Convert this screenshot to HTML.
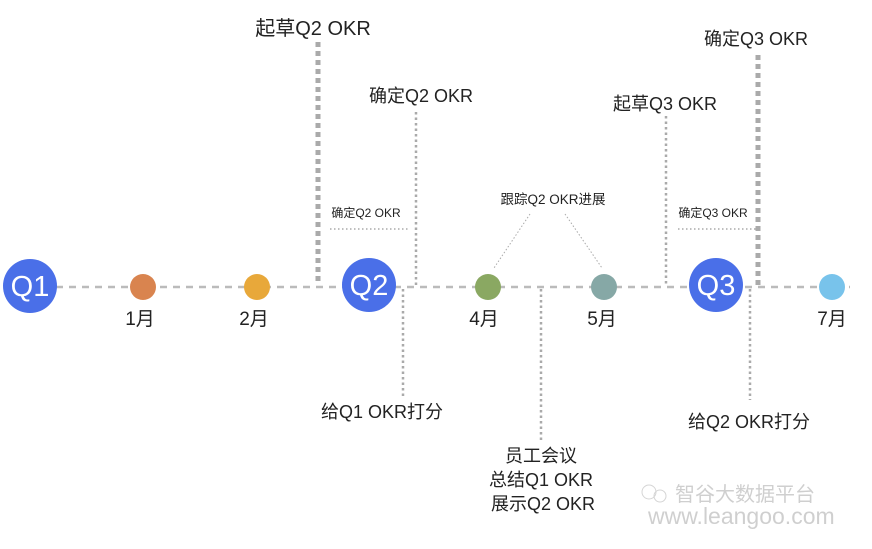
<!DOCTYPE html><html><head><meta charset="utf-8"><style>body{margin:0;background:#fff}svg{display:block}text{font-family:"Liberation Sans","Noto Sans CJK SC",sans-serif;fill:#222}</style></head><body>
<svg width="872" height="549" viewBox="0 0 872 549">
<line x1="30" y1="287" x2="850" y2="287" stroke="#bbb" stroke-width="2.5" stroke-dasharray="7,6"/>
<g stroke="#aaa" fill="none">
<line x1="318" y1="42" x2="318" y2="285" stroke-width="5" stroke-dasharray="5,4"/>
<line x1="758" y1="55" x2="758" y2="285" stroke-width="5" stroke-dasharray="5,4"/>
<line x1="416" y1="112" x2="416" y2="285" stroke-width="2.5" stroke-dasharray="2.5,3"/>
<line x1="666" y1="116" x2="666" y2="285" stroke-width="2.5" stroke-dasharray="2.5,3"/>
<line x1="403" y1="289" x2="403" y2="396" stroke-width="2.5" stroke-dasharray="2.5,3"/>
<line x1="541" y1="289" x2="541" y2="440" stroke-width="2.5" stroke-dasharray="2.5,3"/>
<line x1="750" y1="289" x2="750" y2="400" stroke-width="2.5" stroke-dasharray="2.5,3"/>
<line x1="330" y1="229" x2="410" y2="229" stroke-width="1.5" stroke-dasharray="1.5,2.5"/>
<line x1="678" y1="229" x2="757" y2="229" stroke-width="1.5" stroke-dasharray="1.5,2.5"/>
<line x1="530" y1="214" x2="494" y2="268" stroke-width="1" stroke-dasharray="1.5,2"/>
<line x1="565" y1="214" x2="602" y2="268" stroke-width="1" stroke-dasharray="1.5,2"/>
</g>
<circle cx="30" cy="286" r="27" fill="#4a6fe8"/>
<circle cx="369" cy="285" r="27" fill="#4a6fe8"/>
<circle cx="716" cy="285" r="27" fill="#4a6fe8"/>
<g font-size="29" text-anchor="middle"><text x="30" y="296" style="fill:#fff">Q1</text><text x="369" y="295" style="fill:#fff">Q2</text><text x="716" y="295" style="fill:#fff">Q3</text></g>
<circle cx="143" cy="287" r="13" fill="#d9844f"/>
<circle cx="257" cy="287" r="13" fill="#e8a83a"/>
<circle cx="488" cy="287" r="13" fill="#8aa862"/>
<circle cx="604" cy="287" r="13" fill="#86a8a6"/>
<circle cx="832" cy="287" r="13" fill="#78c3eb"/>
<g font-size="19" text-anchor="middle">
<text x="140" y="325">1月</text><text x="254" y="325">2月</text><text x="484" y="325">4月</text><text x="602" y="325">5月</text><text x="832" y="325">7月</text>
<text x="313" y="35" font-size="20">起草Q2 OKR</text>
<text x="421" y="102" font-size="18">确定Q2 OKR</text>
<text x="665" y="110" font-size="18">起草Q3 OKR</text>
<text x="756" y="45" font-size="18">确定Q3 OKR</text>
<text x="382" y="418" font-size="18">给Q1 OKR打分</text>
<text x="749" y="428" font-size="18">给Q2 OKR打分</text>
<text x="541" y="462" font-size="18">员工会议</text>
<text x="541" y="486" font-size="18">总结Q1 OKR</text>
<text x="543" y="510" font-size="18">展示Q2 OKR</text>
<text x="366" y="217" font-size="12">确定Q2 OKR</text>
<text x="713" y="217" font-size="12">确定Q3 OKR</text>
<text x="553" y="204" font-size="13.5">跟踪Q2 OKR进展</text>
</g>
<g opacity="0.35"><circle cx="649" cy="492" r="7" fill="none" stroke="#888"/><circle cx="660" cy="496" r="6" fill="none" stroke="#888"/>
<text x="675" y="501" font-size="20" style="fill:#777">智谷大数据平台</text>
<text x="648" y="524" font-size="23" style="fill:#777">www.leangoo.com</text></g>
</svg></body></html>
